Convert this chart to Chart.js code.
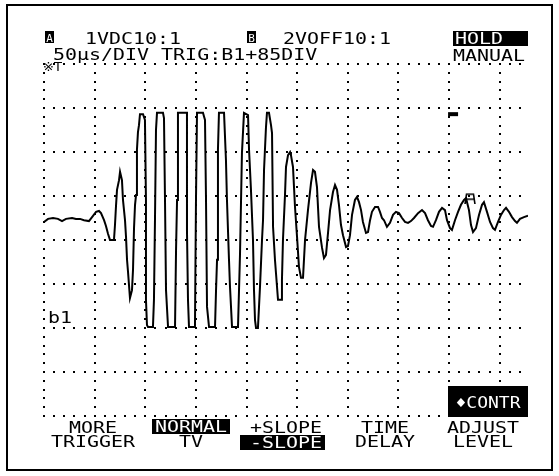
<!DOCTYPE html>
<html>
<head>
<meta charset="utf-8">
<script src="https://cdn.jsdelivr.net/npm/chart.js@4.4.1/dist/chart.umd.min.js"></script>
<style>
  html, body { margin: 0; padding: 0; background: #fff; }
  #wrap { position: relative; width: 559px; height: 476px; }
</style>
</head>
<body>
<div id="wrap"><canvas id="scope" width="559" height="476"></canvas></div>
<script>
// Trace: time in µs (50 µs/div), level in divisions from centre
const timeUs = [
  0, 4.0, 8.9, 13.8, 17.8, 21.7, 27.7, 31.6, 35.6, 39.5,
  44.4, 48.4, 51.4, 54.3, 56.3, 59.3, 61.2, 63.2, 65.2, 69.1,
  70.1, 71.1, 72.1, 74.1, 75.1, 77.0, 78.0, 80.0, 81.0, 82.0,
  83.0, 84.9, 86.9, 87.9, 88.9, 89.9, 90.9, 91.8, 92.8, 93.8,
  94.8, 97.8, 99.7, 100.7, 100.7, 101.7, 102.7, 107.6, 108.6, 109.6,
  110.6, 111.6, 117.5, 118.5, 119.5, 120.5, 122.5, 129.4, 130.4, 131.4,
  132.3, 141.2, 141.2, 142.2, 143.2, 149.1, 150.1, 151.1, 157.0, 159.0,
  160.0, 161.0, 163.0, 168.9, 169.9, 170.9, 171.8, 172.8, 177.8, 179.7,
  180.7, 182.7, 183.7, 185.7, 191.6, 193.6, 195.5, 197.5, 201.5, 202.5,
  204.4, 206.4, 207.4, 208.4, 209.4, 211.3, 213.3, 215.3, 216.3, 217.3,
  219.2, 220.2, 222.2, 224.2, 225.2, 226.2, 228.1, 229.1, 231.1, 234.1,
  235.0, 236.0, 238.0, 239.0, 241.0, 243.0, 243.9, 245.9, 247.9, 249.9,
  251.8, 253.8, 255.8, 257.8, 260.7, 263.7, 265.7, 267.6, 269.6, 271.6,
  274.6, 276.5, 278.5, 280.5, 282.5, 285.4, 287.4, 289.4, 291.3, 293.3,
  295.3, 298.3, 300.2, 302.2, 304.2, 307.1, 309.1, 311.1, 313.1, 315.0,
  318.0, 320.0, 322.0, 323.9, 326.9, 329.9, 331.8, 333.8, 335.8, 338.7,
  341.7, 344.7, 347.6, 350.6, 353.6, 356.5, 359.5, 362.4, 365.4, 369.4,
  373.3, 376.3, 379.2, 382.2, 384.2, 387.1, 390.1, 393.1, 396.0, 398.0,
  401.0, 402.9, 405.9, 408.9, 411.8, 414.8, 416.8, 419.7, 421.7, 423.7,
  426.6, 429.6, 432.6, 434.5, 437.5, 440.5, 443.4, 445.4, 448.4, 451.3,
  454.3, 456.3, 459.2, 462.2, 465.2, 467.1, 470.1, 474.0, 478.0
];
const levelDiv = [
  0.41, 0.48, 0.50, 0.48, 0.43, 0.48, 0.50, 0.48, 0.48, 0.45,
  0.43, 0.55, 0.64, 0.66, 0.61, 0.45, 0.32, 0.14, 0, 0,
  0.34, 0.77, 1.14, 1.36, 1.55, 1.36, 0.91, 0.45, 0.07, -0.45,
  -0.73, -1.32, -1.14, -0.68, 0.27, 0.80, 1.02, 2.05, 2.45, 2.61,
  2.86, 2.86, 2.73, 0.91, -1.36, -1.93, -1.98, -1.98, -1.36, 0.45,
  2.50, 2.89, 2.89, 2.77, 0.91, -1.14, -1.98, -1.98, -0.23, 0.91,
  2.89, 2.89, 0.23, -1.36, -1.98, -1.98, 0.91, 2.89, 2.89, 2.73,
  0.91, -1.52, -1.98, -1.98, -1.14, -0.45, 2.05, 2.89, 2.89, 1.82,
  0.91, -0.45, -1.07, -1.98, -1.98, -0.30, 1.98, 2.89, 2.84, 2.05,
  1.14, 0, -1.14, -1.82, -2.0, -2.0, -1.07, 0, 0.45, 1.59,
  2.55, 2.89, 2.89, 2.61, 2.43, 0.30, -0.45, -0.75, -1.36, -1.36,
  -0.91, 0, 1.02, 1.66, 1.93, 2.00, 1.93, 1.66, 0.75, 0.07,
  -0.61, -0.86, -0.86, 0, 0.68, 1.30, 1.59, 1.55, 1.20, 0.30,
  -0.18, -0.41, -0.34, 0.16, 0.68, 1.09, 1.25, 1.14, 0.80, 0.34,
  0.11, -0.16, -0.14, 0.11, 0.57, 0.91, 0.98, 0.86, 0.68, 0.41,
  0.16, 0.18, 0.45, 0.64, 0.75, 0.75, 0.64, 0.50, 0.45, 0.30,
  0.39, 0.57, 0.64, 0.61, 0.50, 0.41, 0.39, 0.43, 0.50, 0.61,
  0.68, 0.61, 0.45, 0.32, 0.30, 0.45, 0.64, 0.73, 0.68, 0.45,
  0.27, 0.23, 0.45, 0.64, 0.80, 0.91, 0.95, 0.68, 0.34, 0.18,
  0.27, 0.57, 0.80, 0.86, 0.64, 0.41, 0.27, 0.23, 0.41, 0.57,
  0.68, 0.73, 0.64, 0.52, 0.43, 0.39, 0.48, 0.52, 0.55
];

// small screen markers
const cursorTime = [404];
const cursorLevel = [2.86];
const trigTime = [420.7];
const trigLevel = [0.95];

// grid: 50 µs per division, 8 vertical divisions
const gridTimes = [0, 50, 100, 150, 200, 250, 300, 350, 400, 450];
const gridLevels = [-4, -3, -2, -1, 0, 1, 2, 3, 4];

const chanA = '1VDC10:1';
const chanB = '2VOFF10:1';
const timebase = '50µs/DIV TRIG:B1+85DIV';
const softKeys = [
  ['MORE', 'TRIGGER'],
  ['NORMAL', 'TV'],
  ['+SLOPE', '-SLOPE'],
  ['TIME', 'DELAY'],
  ['ADJUST', 'LEVEL']
];

const FONT = '15px "DejaVu Sans Mono", monospace';
const SX = 1.33;

function txt(ctx, s, x, y, align, color, font, sx) {
  ctx.save();
  ctx.font = font || FONT;
  ctx.fillStyle = color || '#000';
  ctx.textAlign = align || 'left';
  ctx.textBaseline = 'alphabetic';
  ctx.translate(x, y);
  ctx.scale(sx || SX, 1);
  ctx.fillText(s, 0, 0);
  ctx.restore();
}

function inv(ctx, x, y, w, h) {
  ctx.fillStyle = '#000';
  ctx.fillRect(x, y, w, h);
}

// marker glyph for trigger point
const trigGlyph = document.createElement('canvas');
trigGlyph.width = 12; trigGlyph.height = 12;
(function () {
  const g = trigGlyph.getContext('2d');
  g.strokeStyle = '#000';
  g.lineWidth = 1.6;
  g.beginPath();
  g.moveTo(1, 12); g.lineTo(2.5, 2); g.lineTo(9.5, 2); g.lineTo(11, 12);
  g.moveTo(2.5, 7); g.lineTo(9.5, 7);
  g.stroke();
})();

const gridDots = {
  id: 'gridDots',
  beforeDatasetsDraw(chart) {
    const ctx = chart.ctx;
    const xs = chart.scales.x, ys = chart.scales.y;
    ctx.save();
    ctx.fillStyle = '#000';
    // dotted columns
    gridTimes.forEach(t => {
      const px = Math.round(xs.getPixelForValue(t));
      for (let v = -4; v <= 4.001; v += 0.2) {
        const py = Math.round(ys.getPixelForValue(v));
        ctx.fillRect(px - 1, py - 1, 2, 2);
      }
    });
    // dotted rows
    gridLevels.forEach(v => {
      const py = Math.round(ys.getPixelForValue(v));
      for (let t = 0; t <= 470.01; t += 10) {
        const px = Math.round(xs.getPixelForValue(t));
        ctx.fillRect(px - 1, py - 1, 2, 2);
      }
    });
    ctx.restore();
  }
};

const screenText = {
  id: 'screenText',
  afterDraw(chart) {
    const ctx = chart.ctx;
    ctx.save();
    // outer frame
    ctx.strokeStyle = '#000';
    ctx.lineWidth = 2;
    ctx.strokeRect(7, 5, 545, 465);

    // header row
    inv(ctx, 45, 31, 9, 12);
    txt(ctx, 'A', 49.5, 42, 'center', '#fff', '11px "DejaVu Sans Mono", monospace', 1);
    txt(ctx, chanA, 85, 44);
    inv(ctx, 247, 31, 9, 12);
    txt(ctx, 'B', 251.5, 42, 'center', '#fff', '11px "DejaVu Sans Mono", monospace', 1);
    txt(ctx, chanB, 283, 44);
    inv(ctx, 453, 31, 75, 15);
    txt(ctx, 'HOLD', 455, 44, 'left', '#fff');
    txt(ctx, timebase, 53, 60);
    txt(ctx, 'MANUAL', 453, 61);
    txt(ctx, '※T', 43, 71, 'left', '#000', '13px "DejaVu Sans", sans-serif', 1);

    // channel reference label
    txt(ctx, 'b1', 48, 323);

    // contrast key
    inv(ctx, 448, 386, 80, 31);
    txt(ctx, '♦CONTR', 488, 408, 'center', '#fff', FONT, 1.2);

    // soft key labels
    const cx = [93, 191, 286, 385, 483];
    softKeys.forEach((k, i) => {
      if (i === 1) {
        inv(ctx, 152, 419, 78, 15);
        txt(ctx, k[0], cx[i], 432, 'center', '#fff');
      } else {
        txt(ctx, k[0], cx[i], 433, 'center');
      }
      if (i === 2) {
        inv(ctx, 240, 435, 85, 15);
        txt(ctx, k[1], cx[i], 448, 'center', '#fff');
      } else {
        txt(ctx, k[1], cx[i], 447, 'center');
      }
    });
    ctx.restore();
  }
};

const toXY = (ts, vs) => ts.map((t, i) => ({ x: t, y: vs[i] }));

new Chart(document.getElementById('scope'), {
  type: 'line',
  data: {
    datasets: [
      {
        data: toXY(timeUs, levelDiv),
        borderColor: '#000',
        borderWidth: 2,
        pointRadius: 0,
        tension: 0,
        fill: false
      },
      {
        data: toXY(cursorTime, cursorLevel),
        showLine: false,
        pointStyle: 'line',
        pointRadius: 5,
        borderWidth: 4,
        borderColor: '#000'
      },
      {
        data: toXY(trigTime, trigLevel),
        showLine: false,
        pointStyle: trigGlyph,
        pointRadius: 6
      }
    ]
  },
  options: {
    responsive: false,
    animation: false,
    devicePixelRatio: 1,
    layout: { padding: { left: 44, top: 64, right: 31, bottom: 60 } },
    plugins: { legend: { display: false }, tooltip: { enabled: false } },
    scales: {
      x: { type: 'linear', display: false, min: 0, max: 478 },
      y: { type: 'linear', display: false, min: -4, max: 4 }
    }
  },
  plugins: [gridDots, screenText]
});
</script>
</body>
</html>
